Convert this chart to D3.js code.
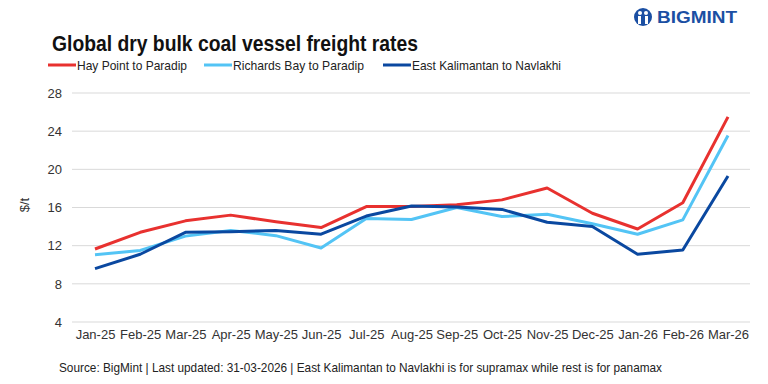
<!DOCTYPE html>
<html>
<head>
<meta charset="utf-8">
<script src="https://cdn.jsdelivr.net/npm/d3@7"></script>
<style>
  body { margin: 0; background: #fff; }
  svg { display: block; }
</style>
</head>
<body>
<svg id="chart" width="768" height="384"></svg>
<script>
// data
const months = ["Jan-25", "Feb-25", "Mar-25", "Apr-25", "May-25", "Jun-25", "Jul-25", "Aug-25",
  "Sep-25", "Oct-25", "Nov-25", "Dec-25", "Jan-26", "Feb-26", "Mar-26"];
const hayPoint = [11.65, 13.4, 14.6, 15.2, 14.5, 13.9, 16.1, 16.1, 16.3, 16.8, 18.05, 15.4, 13.75, 16.5, 25.5];
const richardsBay = [11.05, 11.5, 13.0, 13.6, 13.05, 11.75, 14.85, 14.75, 16.0, 15.05, 15.3, 14.3, 13.2, 14.7, 23.55];
const eastKalimantan = [9.6, 11.1, 13.4, 13.45, 13.6, 13.2, 15.1, 16.15, 16.05, 15.8, 14.45, 14.0, 11.1, 11.55, 19.3];
const yTicks = [4, 8, 12, 16, 20, 24, 28];

const series = [
  { name: "Hay Point to Paradip", values: hayPoint, color: "#e8312f" },
  { name: "Richards Bay to Paradip", values: richardsBay, color: "#53c4f5" },
  { name: "East Kalimantan to Navlakhi", values: eastKalimantan, color: "#0a48a0" }
];

const svg = d3.select("#chart");
const sans = "'Liberation Sans', Arial, sans-serif";

const plot = { left: 72, right: 750, top: 93, bottom: 322 };

const x = d3.scalePoint()
  .domain(months)
  .range([95, 728]);

const y = d3.scaleLinear()
  .domain([4, 28])
  .range([plot.bottom, plot.top]);

// gridlines
svg.append("g")
  .selectAll("line")
  .data(yTicks)
  .enter().append("line")
  .attr("x1", plot.left)
  .attr("x2", plot.right)
  .attr("y1", d => y(d))
  .attr("y2", d => y(d))
  .attr("stroke", "#d9d9d9")
  .attr("stroke-width", 1);

// y axis labels
const yAxis = svg.append("g")
  .attr("transform", `translate(${plot.left - 4},0)`)
  .call(d3.axisLeft(y).tickValues(yTicks).tickSize(0).tickPadding(6));
yAxis.select(".domain").remove();
yAxis.selectAll("text")
  .style("font-family", sans)
  .style("font-size", "13px")
  .style("fill", "#333");

// x axis labels
const xAxis = svg.append("g")
  .attr("transform", `translate(0,${plot.bottom})`)
  .call(d3.axisBottom(x).tickSize(0).tickPadding(8));
xAxis.select(".domain").remove();
xAxis.selectAll("text")
  .style("font-family", sans)
  .style("font-size", "13px")
  .style("fill", "#333");

// y label
svg.append("text")
  .attr("transform", "translate(29,205) rotate(-90)")
  .attr("text-anchor", "middle")
  .style("font-family", sans)
  .style("font-size", "13px")
  .style("fill", "#333")
  .text("$/t");

// lines
const line = d3.line()
  .x((d, i) => x(months[i]))
  .y(d => y(d));

svg.append("g")
  .selectAll("path")
  .data(series)
  .enter().append("path")
  .attr("d", d => line(d.values))
  .attr("fill", "none")
  .attr("stroke", d => d.color)
  .attr("stroke-width", 3)
  .attr("stroke-linejoin", "round");

// title (the original uses a condensed face, squeeze to fit)
svg.append("text")
  .attr("x", 52)
  .attr("y", 51)
  .attr("textLength", 366)
  .attr("lengthAdjust", "spacingAndGlyphs")
  .style("font-family", sans)
  .style("font-weight", "bold")
  .style("font-size", "22px")
  .style("fill", "#111")
  .text("Global dry bulk coal vessel freight rates");

// legend
const legendX = [48, 204, 383];
const legendW = [110, 131, 149];
const legend = svg.append("g")
  .selectAll("g")
  .data(series)
  .enter().append("g")
  .attr("transform", (d, i) => `translate(${legendX[i]},65)`);
legend.append("line")
  .attr("x1", 0).attr("x2", 28)
  .attr("stroke", d => d.color)
  .attr("stroke-width", 3);
legend.append("text")
  .attr("x", 29)
  .attr("y", 4.5)
  .attr("textLength", (d, i) => legendW[i])
  .attr("lengthAdjust", "spacingAndGlyphs")
  .style("font-family", sans)
  .style("font-size", "13.5px")
  .style("fill", "#222")
  .text(d => d.name);

// source note
svg.append("text")
  .attr("x", 59)
  .attr("y", 372)
  .attr("textLength", 603)
  .attr("lengthAdjust", "spacingAndGlyphs")
  .style("font-family", sans)
  .style("font-size", "13.5px")
  .style("fill", "#222")
  .text("Source: BigMint | Last updated: 31-03-2026 | East Kalimantan to Navlakhi is for supramax while rest is for panamax");

// logo
const logo = svg.append("g").attr("transform", "translate(643,17)");
logo.append("circle").attr("r", 9).attr("fill", "#1b4fa3");
logo.append("circle").attr("cx", -3).attr("cy", -4).attr("r", 2).attr("fill", "#fff");
logo.append("circle").attr("cx", 3).attr("cy", -4).attr("r", 2).attr("fill", "#fff");
logo.append("rect").attr("x", -5).attr("y", -1).attr("width", 3).attr("height", 8).attr("fill", "#fff");
logo.append("rect").attr("x", 2).attr("y", -1).attr("width", 3).attr("height", 8).attr("fill", "#fff");
logo.append("text")
  .attr("x", 14)
  .attr("y", 6)
  .attr("textLength", 80)
  .attr("lengthAdjust", "spacingAndGlyphs")
  .style("font-family", sans)
  .style("font-weight", "bold")
  .style("font-size", "16px")
  .style("fill", "#1b4fa3")
  .text("BIGMINT");
</script>
</body>
</html>
